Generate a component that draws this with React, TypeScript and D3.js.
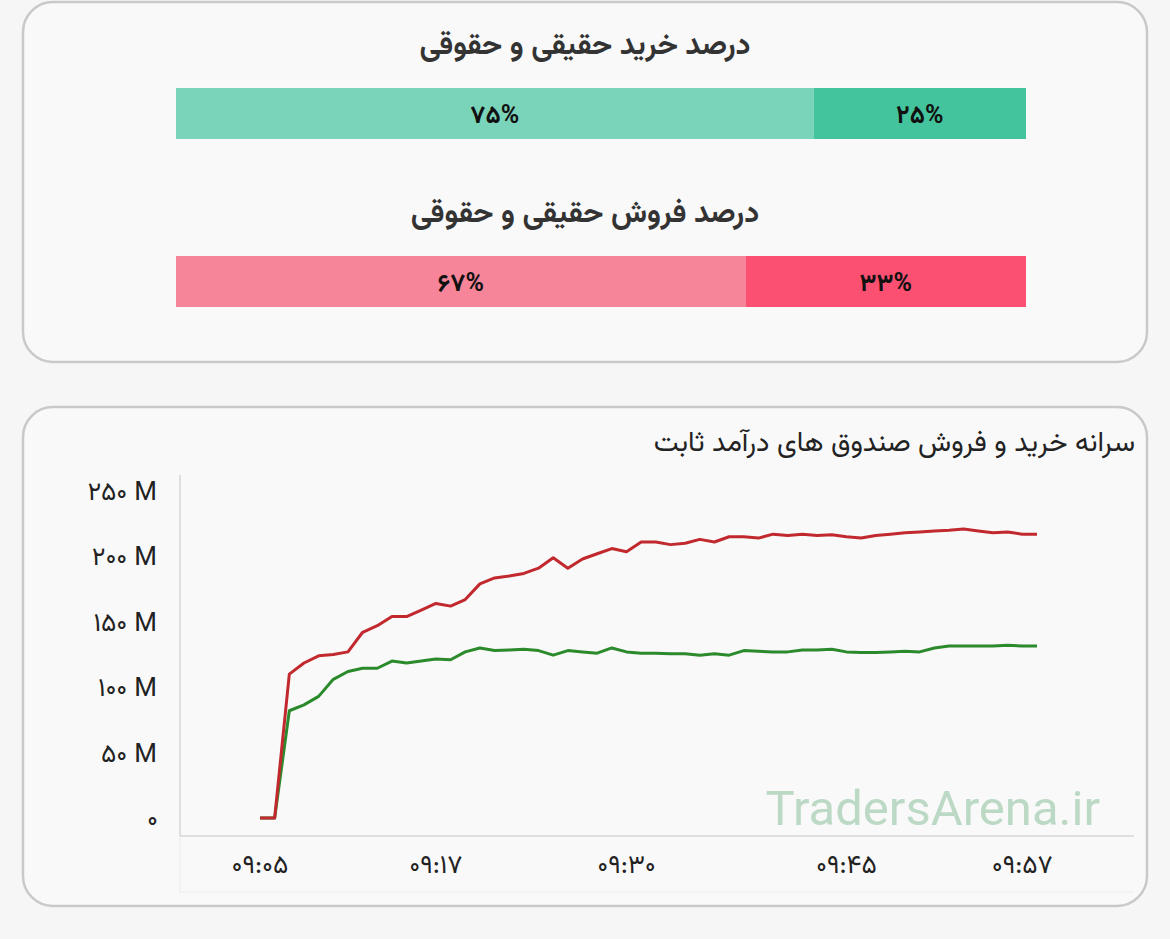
import React, { useEffect, useRef } from 'react';
import * as d3 from 'd3';

// share bars (percent)
const buyShares = [75, 25];
const sellShares = [67, 33];
const buyColors = ['#7ad4b9', '#44c49c'];
const sellColors = ['#f78599', '#fb5072'];

// per-capita buy / sell, millions, one value per minute from 09:05 to 09:58
const times = d3.range(54).map(i => {
    const m = 5 + i;
    return `09:${String(m).padStart(2, '0')}`;
});
const buyValues = [0, 0, 110, 118.5, 124, 125, 127, 142, 147, 154, 154, 159, 164, 162, 167, 179, 183.5, 185, 187, 191,
    199, 191, 198, 202, 206, 203.5, 211, 211, 209, 210, 213, 211, 215, 215, 214, 217, 216, 217, 216, 216.5,
    215, 214, 216, 217, 218, 218.7, 219.5, 220, 221, 219.5, 218, 218.7, 217, 217];
const sellValues = [0, 0, 82, 86.5, 93, 106, 112, 114.5, 114.5, 120, 118.5, 120, 121.5, 121, 127, 130, 128, 128.5, 129, 128,
    124.5, 128, 127, 126, 130, 127, 126, 126, 125.5, 125.5, 124.5, 125.5, 124.5, 128, 127.5, 127, 127, 128.5, 128.5, 129,
    127, 126.5, 126.5, 127, 127.5, 127, 130, 131.5, 131.5, 131.5, 131.5, 132, 131.5, 131.5];
const yTicks = [0, 50, 100, 150, 200, 250];
const xTickLabels = ['09:05', '09:17', '09:30', '09:45', '09:57'];

const faDigits = '۰۱۲۳۴۵۶۷۸۹';
const fa = (s: string | number) => String(s).replace(/[0-9]/g, d => faDigits[+d]);

const FONT = "Vazirmatn, 'DejaVu Sans', sans-serif";

function App() {
    const ref = useRef<SVGSVGElement>(null);

    useEffect(() => {
        const svg = d3.select(ref.current);
        svg.selectAll('*').remove();

        svg.append('rect').attr('width', 1170).attr('height', 939).attr('fill', '#f6f6f6');

        // cards
        [[2, 360], [407, 499]].forEach(([y, h]) => {
            svg.append('rect')
                .attr('x', 23).attr('y', y).attr('width', 1124).attr('height', h)
                .attr('rx', 30).attr('fill', '#f9f9f9')
                .attr('stroke', '#c9c9c9').attr('stroke-width', 2.5);
        });

        // share bars
        const bx = d3.scaleLinear().domain([0, 100]).range([176, 1026]);
        const drawShare = (title: string, ty: number, by: number, shares: number[], colors: string[]) => {
            svg.append('text')
                .attr('x', 585).attr('y', ty)
                .attr('text-anchor', 'middle')
                .attr('font-family', FONT).attr('font-weight', 'bold')
                .attr('font-size', 30).attr('fill', '#333')
                .text(title);
            let acc = 0;
            shares.forEach((s, i) => {
                const x0 = bx(acc), x1 = bx(acc + s);
                svg.append('rect')
                    .attr('x', x0).attr('y', by).attr('width', x1 - x0).attr('height', 51)
                    .attr('fill', colors[i]);
                svg.append('text')
                    .attr('x', (x0 + x1) / 2).attr('y', by + 35)
                    .attr('text-anchor', 'middle')
                    .attr('font-family', FONT).attr('font-weight', 'bold')
                    .attr('font-size', 25).attr('letter-spacing', 1).attr('fill', '#111')
                    .text(fa(s) + '%');
                acc += s;
            });
        };
        drawShare('درصد خرید حقیقی و حقوقی', 54, 88, buyShares, buyColors);
        drawShare('درصد فروش حقیقی و حقوقی', 222, 256, sellShares, sellColors);

        // line chart
        svg.append('text')
            .attr('x', 1135).attr('y', 451)
            .attr('text-anchor', 'end')
            .attr('font-family', FONT).attr('font-size', 28).attr('fill', '#222')
            .text('سرانه خرید و فروش صندوق های درآمد ثابت');

        const x = d3.scalePoint<string>().domain(times).range([260, 1037]);
        const y = d3.scaleLinear().domain([0, 250]).range([818, 491]);

        // faint label box
        svg.append('path')
            .attr('d', 'M180,836 V892 H1134')
            .attr('fill', 'none').attr('stroke', '#ececec').attr('stroke-width', 1);

        svg.append('line')
            .attr('x1', 180).attr('x2', 180).attr('y1', 475).attr('y2', 836)
            .attr('stroke', '#d6d6d6').attr('stroke-width', 1.5);
        svg.append('line')
            .attr('x1', 180).attr('x2', 1134).attr('y1', 836).attr('y2', 836)
            .attr('stroke', '#d6d6d6').attr('stroke-width', 1.5);

        svg.append('g').selectAll('text').data(yTicks).join('text')
            .attr('x', 158).attr('y', d => y(d) + 9)
            .attr('text-anchor', 'end')
            .attr('font-family', FONT).attr('font-size', 26).attr('letter-spacing', 1).attr('fill', '#222')
            .text(d => d === 0 ? fa(0) : fa(d) + ' M');

        svg.append('g').selectAll('text').data(xTickLabels).join('text')
            .attr('x', d => x(d)!).attr('y', 873)
            .attr('text-anchor', 'middle')
            .attr('font-family', FONT).attr('font-size', 26).attr('letter-spacing', 1.5).attr('fill', '#222')
            .text(d => fa(d));

        svg.append('text')
            .attr('x', 1100).attr('y', 825)
            .attr('text-anchor', 'end')
            .attr('font-family', 'Roboto, sans-serif').attr('font-size', 49)
            .attr('fill', '#bcd9c5')
            .text('TradersArena.ir');

        const line = d3.line<number>()
            .x((d, i) => x(times[i])!)
            .y(d => y(d));

        svg.append('path')
            .attr('d', line(sellValues))
            .attr('fill', 'none').attr('stroke', '#2b8a2b').attr('stroke-width', 3)
            .attr('stroke-linejoin', 'round');
        svg.append('path')
            .attr('d', line(buyValues))
            .attr('fill', 'none').attr('stroke', '#c1292e').attr('stroke-width', 3)
            .attr('stroke-linejoin', 'round');
    }, []);

    return (
        <svg ref={ref} width={1170} height={939}
            style={{ position: 'absolute', left: 0, top: 0, display: 'block' }} />
    );
}

export default App;
